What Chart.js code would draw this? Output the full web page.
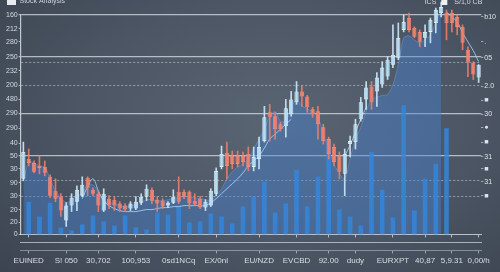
<!DOCTYPE html>
<html>
<head>
<meta charset="utf-8">
<script src="https://cdn.jsdelivr.net/npm/chart.js@4.4.1/dist/chart.umd.min.js"></script>
<style>
  html, body { margin: 0; padding: 0; }
  body {
    width: 500px; height: 272px; overflow: hidden; position: relative;
    background: radial-gradient(ellipse 75% 85% at 55% 45%, #5a6573 0%, #4b5563 55%, #3b434f 100%);
  }
  #chart { position: absolute; left: 0; top: -6px; }
</style>
</head>
<body>
<canvas id="chart" width="500" height="278"></canvas>
<script>
const fontFamily = "'Liberation Sans', Arial, sans-serif";
const narrowFamily = "'Liberation Sans Narrow', 'Liberation Sans', Arial, sans-serif";

const legendText = 'Stock Analysis';
const cornerLabels = ['ICS', 'S/1,0 CB'];

// left / right axis labels and where the horizontal rules sit
const leftTickValues = [0, 12, 25, 39, 52, 66, 79, 92, 107, 122, 136, 150, 165, 179, 194, 207, 221];
const leftTickLabels = ['0', '20', '20', '30', '90', '30', '50', '40', '290', '290', '480', '200', '232', '250', '280', '212', '160'];
const rightTickValues = [219, 194, 178, 149, 135, 121, 108, 93, 78, 66, 53, 39];
const rightTickLabels = ['b10', '.', '05', '2.0', '■', '30', '●', '■', '31', '■', '31', '■'];
const solidGridAt = [221, 179, 122, 79];
const dottedGridAt = [173, 150, 54, 38];

// bottom labels and the candle they sit under
const xTickLabels = ['EUINED', 'S! 050', '30,702', '100,953', '0sd1NCq', 'EX/0nl', 'EU/NZD', 'EVCBD', '92.00', 'dudy', 'EURXPT', '40,87', '5,9.31', '0,00/h'];
const xTickAt = [1, 8, 14, 21, 29, 36, 44, 51, 57, 62, 69, 75, 80, 85];

// candles
const openPrices = [56,76,72,69,68,58,44,38,14,29, 33,39,57,45,41,24,36,35,31,29, 26,26,32,38,45,35,34,29,32,43,
  43,43,34,36,27,29,41,68,82,79, 79,79,81,68,76,94,123,119,111,109, 121,133,144,139,126,124,108,96,88,79,
  61,91,93,116,136,149,144,151,159,171, 178,206,218,208,204,198,204,213,223,223, 223,219,209,186,173,158];
const closePrices = [83,72,63,67,62,39,36,24,29,37, 45,50,47,41,29,41,29,29,26,25, 31,33,38,46,34,31,28,32,38,33,
  38,31,30,27,33,44,64,81,69,71, 71,73,68,78,88,118,118,106,106,127, 136,144,139,128,121,111,94,81,73,63,
  81,94,111,133,148,133,158,168,176,181, 198,214,206,199,194,204,216,226,229,213, 213,209,193,174,161,171];
const highPrices = [93,86,74,79,74,60,56,41,32,41, 49,58,58,47,44,46,39,38,33,31, 33,38,41,50,47,38,36,33,45,58,
  45,44,41,38,35,46,67,89,93,84, 84,83,88,88,98,129,131,123,113,136, 144,154,150,140,128,129,111,98,91,83,
  86,99,116,138,154,154,163,174,179,211, 213,221,223,209,206,211,218,228,234,226, 226,221,211,189,174,171];
const lowPrices = [54,69,62,61,59,37,33,18,8,23, 24,38,39,39,23,23,26,24,23,23, 24,25,30,34,31,23,26,27,31,31,
  36,26,29,26,24,28,39,66,56,66, 68,69,64,64,66,93,94,96,104,98, 119,131,129,123,118,96,91,76,69,56,
  39,78,86,114,126,126,129,148,156,168, 176,204,204,198,189,189,193,203,219,196, 204,201,186,159,156,153];

// volume columns (one per two candles)
const volumes = [33,18,32,7,4,10,19,13,9,19, 7,5,22,20,29,12,13,21,18,11, 28,38,53,22,31,65,28,58,96,25, 18,9,83,45,17,130,24,56,71,107];

// shaded area behind the candles
const areaLevels = [54,73,72,69,68,56,44,37,32,35, 39,42,50,50,43,34,32,31,29,28, 29,30,32,35,35,34,34,35,36,37,
  38,38,37,36,35,34,39,46,56,63, 68,71,76,86,96,106,119,124,114,114, 128,135,130,126,124,118,101,86,71,61,
  56,76,96,108,124,136,138,140,141,151, 171,198,200,196,193,196,201,214,226,null, null,null,null,null,null,null];

// thin average line
const maLevels = [null,null,null,null,null,null,null,null,null,null, null,36,48,56,44,34,29,26,24,23,
  23,23,24,25,25,26,27,27,28,28, 29,29,29,29,29,32,36,41,46,51, 56,62,69,74,79,87,96,101,106,111,
  116,null,null,null,null,null,null,null,null,null, 79,90,103,116,128,null,null,null,null,null,
  null,null,null,null,null,null,null,null,null,224, 219,214,203,194,185,174];

const candleLabels = openPrices.map((_, i) => {
  const k = xTickAt.indexOf(i);
  return k < 0 ? '' : xTickLabels[k];
});
const candleBodies = openPrices.map((o, i) => [o, closePrices[i]]);
const candleWicks = lowPrices.map((l, i) => [l, highPrices[i]]);
const isUp = i => closePrices[i] >= openPrices[i];
const volumeSlots = volumes.concat([null, null, null]);

const yTickSet = [...new Set([...leftTickValues, ...solidGridAt, ...dottedGridAt])].sort((a, b) => a - b);
const axisInk = 'rgba(226,231,237,0.75)';
const noInk = 'rgba(0,0,0,0)';

const cornerNote = {
  id: 'cornerNote',
  afterDraw(chart) {
    const { ctx, chartArea } = chart;
    const y = 8;
    ctx.save();
    ctx.font = '7px ' + fontFamily;
    ctx.textBaseline = 'middle';
    ctx.textAlign = 'right';
    ctx.fillStyle = '#d5dbe1';
    let x = chartArea.right + 1;
    ctx.fillText(cornerLabels[1], x, y);
    x -= ctx.measureText(cornerLabels[1]).width + 13;
    ctx.fillStyle = '#eef1f4';
    ctx.fillRect(x, y - 3, 6, 6);
    ctx.fillStyle = '#d5dbe1';
    ctx.fillText(cornerLabels[0], x - 5, y);
    ctx.restore();
  }
};

Chart.defaults.font.family = fontFamily;
Chart.defaults.color = '#d3d9df';

new Chart(document.getElementById('chart'), {
  type: 'bar',
  data: {
    labels: candleLabels,
    datasets: [
      {
        type: 'line', label: legendText, data: areaLevels,
        fill: 'origin', backgroundColor: 'rgba(72,128,208,0.45)',
        borderColor: 'rgba(110,160,225,0.45)', borderWidth: 1,
        pointRadius: 0, tension: 0.3, order: 5, clip: false
      },
      {
        type: 'bar', label: 'Volume', data: volumeSlots, xAxisID: 'xVol', yAxisID: 'yVol',
        backgroundColor: 'rgba(52,136,222,0.82)', barPercentage: 0.86, categoryPercentage: 1, order: 4
      },
      {
        type: 'line', label: 'MA', data: maLevels,
        borderColor: 'rgba(170,210,245,0.85)', borderWidth: 1,
        pointRadius: 0, tension: 0.4, spanGaps: false, order: 3, clip: false
      },
      {
        type: 'bar', label: 'Wick', data: candleWicks,
        backgroundColor: ctx => isUp(ctx.dataIndex) ? 'rgba(205,232,250,0.9)' : 'rgba(238,125,108,0.9)',
        barThickness: 1, grouped: false, order: 2, clip: false
      },
      {
        type: 'bar', label: 'Body', data: candleBodies,
        backgroundColor: ctx => isUp(ctx.dataIndex) ? 'rgba(178,222,245,0.92)' : '#f07f6d',
        borderColor: ctx => isUp(ctx.dataIndex) ? '#eaf6ff' : '#f48e7c',
        borderWidth: 0.8, borderSkipped: false,
        barPercentage: 0.78, categoryPercentage: 1, grouped: false, order: 1, clip: false
      }
    ]
  },
  options: {
    responsive: false,
    devicePixelRatio: 1,
    animation: false,
    events: [],
    layout: { padding: { left: 5, right: 3, top: 2, bottom: 3 } },
    plugins: {
      tooltip: { enabled: false },
      legend: {
        display: true, position: 'top', align: 'start',
        labels: {
          boxWidth: 9, boxHeight: 7, padding: 2, color: '#cfd5dc', font: { size: 7 },
          generateLabels: () => [{ text: legendText, fillStyle: '#e8ecf0', strokeStyle: '#e8ecf0', lineWidth: 0, hidden: false, fontColor: '#cfd5dc' }]
        }
      }
    },
    scales: {
      x: {
        type: 'category', position: 'bottom', offset: true, weight: 0,
        grid: { drawOnChartArea: false, offset: false, tickLength: 3,
          tickColor: ctx => xTickAt.includes(ctx.index) ? axisInk : noInk },
        ticks: { display: false },
        border: { color: axisInk, width: 1 },
        afterFit: s => { s.height = 8; }
      },
      xMid: {
        type: 'category', labels: candleLabels, position: 'bottom', offset: true, weight: 1,
        grid: { display: false },
        ticks: { display: false },
        border: { color: 'rgba(226,231,237,0.65)', width: 1 },
        afterFit: s => { s.height = 8; }
      },
      xLab: {
        type: 'category', labels: candleLabels, position: 'bottom', offset: true, weight: 2,
        grid: { drawOnChartArea: false, offset: false, tickLength: 3,
          tickColor: ctx => xTickAt.includes(ctx.index) ? 'rgba(215,222,230,0.6)' : noInk },
        ticks: { autoSkip: false, maxRotation: 0, padding: 3, color: '#d9dee4', font: { family: narrowFamily, size: 8 } },
        border: { color: 'rgba(215,222,230,0.45)', width: 1 }
      },
      xVol: { type: 'category', labels: volumeSlots.map(() => ''), display: false, offset: true },
      y: {
        type: 'linear', position: 'left', min: 0, max: 221,
        afterBuildTicks: axis => { axis.ticks = yTickSet.map(v => ({ value: v })); },
        ticks: {
          autoSkip: false, padding: 1, color: '#d3d9df', font: { size: 7 },
          callback: v => { const k = leftTickValues.indexOf(v); return k < 0 ? '' : leftTickLabels[k]; }
        },
        grid: {
          tickLength: 2,
          color: ctx => {
            const v = ctx.tick && ctx.tick.value;
            if (solidGridAt.includes(v)) return 'rgba(222,228,234,0.72)';
            if (dottedGridAt.includes(v)) return 'rgba(210,218,226,0.55)';
            return noInk;
          },
          lineWidth: ctx => solidGridAt.includes(ctx.tick && ctx.tick.value) ? 1.3 : 1,
          tickColor: ctx => ctx.tick && leftTickValues.includes(ctx.tick.value) ? 'rgba(220,226,232,0.7)' : noInk
        },
        border: {
          color: 'rgba(226,231,237,0.8)', width: 1.2,
          dash: ctx => ctx.tick && dottedGridAt.includes(ctx.tick.value) ? [2, 2] : []
        }
      },
      y2: {
        type: 'linear', position: 'right', min: 0, max: 221,
        afterBuildTicks: axis => { axis.ticks = rightTickValues.map(v => ({ value: v })); },
        ticks: {
          autoSkip: false, padding: 1, color: '#dfe4ea', font: { size: 7 },
          callback: v => { const k = rightTickValues.indexOf(v); return k < 0 ? '' : rightTickLabels[k]; }
        },
        grid: { drawOnChartArea: false, tickLength: 2, tickColor: 'rgba(220,226,232,0.6)' },
        border: { display: false }
      },
      yVol: { type: 'linear', display: false, min: 0, max: 221 }
    }
  },
  plugins: [cornerNote]
});
</script>
</body>
</html>
